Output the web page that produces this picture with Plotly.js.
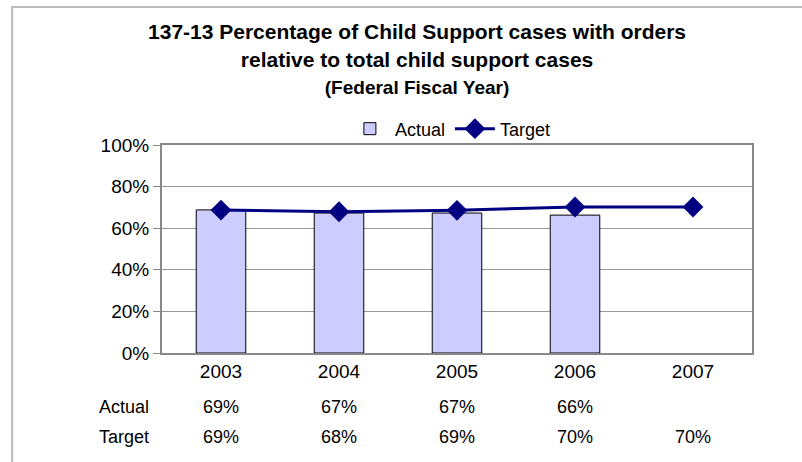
<!DOCTYPE html>
<html>
<head>
<meta charset="utf-8">
<script src="https://cdn.plot.ly/plotly-3.0.1.min.js"></script>
<style>html,body{margin:0;padding:0;background:#fff;}#chart{width:802px;height:462px;}</style>
</head>
<body>
<div id="chart"></div>
<script>
const years = ['2003', '2004', '2005', '2006', '2007'];
const actualValues = [68.8, 67.3, 67.3, 66.3, null];
const targetValues = [68.7, 67.9, 68.6, 70.2, 70.2];
const yTickValues = [0, 20, 40, 60, 80, 100];
const rowLabels = ['Actual', 'Target'];

const FONT = '"Liberation Sans", Arial, sans-serif';

const traces = [
  {
    type: 'bar', name: 'Actual', x: years, y: actualValues,
    width: 0.42,
    marker: {color: '#CCCCFF', line: {color: '#000000', width: 1}},
    hoverinfo: 'skip'
  },
  {
    type: 'scatter', mode: 'lines+markers', name: 'Target', x: years, y: targetValues,
    line: {color: '#000080', width: 3},
    marker: {symbol: 'diamond', size: 16, color: '#000080'},
    hoverinfo: 'skip'
  }
];

const fmt = v => (v === null || v === undefined) ? '' : Math.round(v) + '%';
const annotations = [];
const rowY = [-0.26, -0.405];
[actualValues, targetValues].forEach((arr, r) => {
  annotations.push({xref: 'paper', yref: 'paper', x: -0.11, y: rowY[r], xanchor: 'left', yanchor: 'middle',
    text: rowLabels[r], showarrow: false, font: {family: FONT, size: 18, color: '#000'}});
  arr.forEach((v, i) => {
    if (v === null) return;
    annotations.push({xref: 'x', yref: 'paper', x: i, y: rowY[r], xanchor: 'center', yanchor: 'middle',
      text: fmt(v), showarrow: false, font: {family: FONT, size: 18, color: '#000'}});
  });
});

const layout = {
  width: 802, height: 462,
  margin: {l: 162, r: 50, t: 145, b: 109},
  paper_bgcolor: '#ffffff', plot_bgcolor: '#ffffff',
  font: {family: FONT, color: '#000'},
  title: {
    text: '<b>137-13 Percentage of Child Support cases with orders<br>relative to total child support cases<br><span style="font-size:19px">(Federal Fiscal Year)</span></b>',
    font: {family: FONT, size: 21, color: '#000'},
    x: 0.52, xref: 'container', xanchor: 'center',
    y: 0.915, yref: 'container', yanchor: 'top'
  },
  showlegend: true,
  legend: {
    orientation: 'h', x: 0.31, xanchor: 'left', y: 1.077, yanchor: 'middle',
    font: {family: FONT, size: 18, color: '#000'},
    bgcolor: 'rgba(0,0,0,0)', itemwidth: 40, tracegroupgap: 0
  },
  xaxis: {
    type: 'category', categoryarray: years, range: [-0.5, 4.5], autorange: false,
    showgrid: false, zeroline: false,
    showline: true, linecolor: '#888888', linewidth: 2, mirror: true,
    ticks: '', tickfont: {family: FONT, size: 19, color: '#000'}
  },
  yaxis: {
    range: [0, 100], autorange: false, tickvals: yTickValues, ticktext: yTickValues.map(v => v + '%'),
    showgrid: true, gridcolor: '#999999', gridwidth: 1, zeroline: false,
    showline: true, linecolor: '#888888', linewidth: 2, mirror: true,
    ticks: 'outside', ticklen: 7, tickcolor: '#888888', tickwidth: 1,
    tickfont: {family: FONT, size: 19, color: '#000'}
  },
  annotations: annotations,
  shapes: [
    {type: 'rect', xref: 'paper', yref: 'paper', x0: -0.254, x1: 1.3, y0: -1, y1: 1.663,
     line: {color: '#BBBBBB', width: 2}, fillcolor: 'rgba(0,0,0,0)', layer: 'below'}
  ]
};

Plotly.newPlot('chart', traces, layout, {staticPlot: true, displayModeBar: false});
</script>
</body>
</html>
